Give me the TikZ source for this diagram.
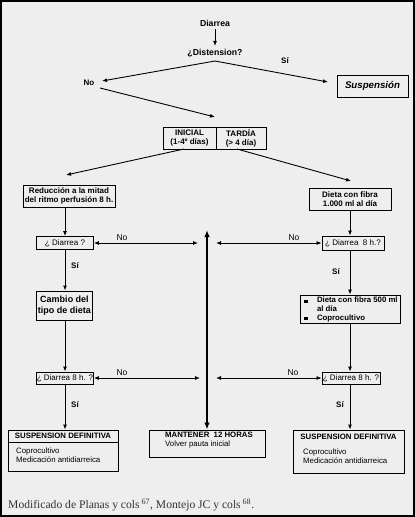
\documentclass[tikz,border=0pt]{standalone}
\usepackage{fontspec}
\setmainfont{Liberation Sans}
\newfontfamily\capfont{Liberation Serif}
\usetikzlibrary{arrows.meta}
\definecolor{bg}{HTML}{EEEEEE}
\begin{document}
\begin{tikzpicture}[x=1pt,y=-1pt,
  txt/.style={inner sep=0pt, font=\fontsize{8}{9}\selectfont},
  btxt/.style={inner sep=0pt, font=\fontsize{8}{9}\selectfont\bfseries},
  box/.style={draw, line width=0.9pt, inner sep=0pt, align=center},
  arr/.style={-{Latex[length=5pt,width=4pt]}, line width=0.9pt},
  darr/.style={{Latex[length=5pt,width=4pt]}-{Latex[length=5pt,width=4pt]}, line width=0.8pt},
  bigarr/.style={{Latex[length=7pt,width=5.5pt]}-{Latex[length=7pt,width=5.5pt]}, line width=2.2pt},
]
\useasboundingbox (0,0) rectangle (415,517);
\fill[bg] (0,0) rectangle (415,517);
\draw[line width=2pt] (1,1) rectangle (414,516);

% top
\node[btxt, font=\fontsize{8.7}{10}\selectfont\bfseries] (diarrea) at (215,23) {Diarrea};
\node[btxt, font=\fontsize{8.7}{10}\selectfont\bfseries] (dist) at (215,53) {¿Distension?};
\draw[arr, shorten <=3pt, shorten >=3pt] (diarrea) -- (dist);
\coordinate (dsp) at (215,61);
\node[btxt] (no1) at (89,83) {No};
\node[btxt] (si1) at (285,61) {Sí};
\node[box, minimum width=71pt, minimum height=22pt, font=\fontsize{9.7}{11}\selectfont\bfseries\itshape] (susp) at (372.5,86) {Suspensión};
\coordinate (noL) at (102,81);
\coordinate (suspL) at (328,82);
\draw[arr] (dsp) -- (noL);
\draw[arr] (dsp) -- (suspL);
\coordinate (noS) at (100,88);
\coordinate (phT) at (215,117);
\draw[arr] (noS) -- (phT);

% phase box
\node[box, minimum width=53pt, minimum height=22pt, font=\fontsize{8}{9}\selectfont\bfseries] (ini) at (189.5,138) {INICIAL\\(1-4º días)};
\node[box, minimum width=50pt, minimum height=22pt, font=\fontsize{8}{9}\selectfont\bfseries] (tar) at (241,138) {TARDÍA\\(> 4 día)};
\coordinate (iniS) at (184,149);
\coordinate (tarS) at (237,149);
\coordinate (redT) at (66,175);
\coordinate (dietT) at (351,181);
\draw[arr] (iniS) -- (redT);
\draw[arr] (tarS) -- (dietT);

% left column
\node[box, minimum width=92pt, minimum height=22pt, font=\fontsize{8}{9}\selectfont\bfseries] (red) at (69,196) {Reducción a la mitad\\del ritmo perfusión 8 h.};
\node[box, minimum width=57pt, minimum height=13pt, font=\fontsize{8}{9}\selectfont] (q1) at (65,243) {¿ Diarrea ?};
\draw[arr] (red.south -| q1.north) -- (q1.north);
\node[box, minimum width=56pt, minimum height=29pt, font=\fontsize{9}{11}\selectfont\bfseries] (camb) at (64.5,305.5) {Cambio del\\tipo de dieta};
\draw[arr] (q1.south) -- (q1.south |- camb.north);
\node[btxt] (si2) at (75,266) {Sí};
\node[box, minimum width=57pt, minimum height=12pt, font=\fontsize{8}{9}\selectfont] (q3) at (65,378) {¿ Diarrea 8 h. ?};
\draw[arr] (camb.south -| q3.north) -- (q3.north);
\node[box, minimum width=110pt, minimum height=41pt] (fin1) at (63,450.5) {};
\draw[line width=0.6pt] (fin1.west |- 0,442) -- (fin1.east |- 0,442);
\node[btxt, font=\fontsize{7.8}{9}\selectfont\bfseries] (fin1h) at (63,436) {SUSPENSION DEFINITIVA};
\node[txt, anchor=north west, align=left, font=\fontsize{7.8}{9}\selectfont] (fin1b) at (16,448) {Coprocultivo\\Medicación antidiarreica};
\draw[arr] (q3.south) -- (q3.south |- fin1.north);
\node[btxt] (si3) at (75,405) {Sí};

% right column
\node[box, minimum width=82pt, minimum height=22pt, font=\fontsize{8}{9}\selectfont\bfseries] (diet) at (350,199.5) {Dieta con fibra\\1.000 ml al día};
\node[box, minimum width=62pt, minimum height=14pt, font=\fontsize{8}{9}\selectfont] (q2) at (353,243) {¿ Diarrea~ 8 h.?};
\draw[arr] (diet.south) -- (diet.south |- q2.north);
\node[box, minimum width=100pt, minimum height=28pt] (bul) at (350,309) {};
\node[btxt, anchor=west, align=left, font=\fontsize{7.8}{8.7}\selectfont\bfseries] (bult) at (304,309.5) {\rule{3.3pt}{3.3pt}\hspace{9.5pt}Dieta con fibra 500 ml\\\hspace{12.8pt}al día\\\rule{3.3pt}{3.3pt}\hspace{9.5pt}Coprocultivo};
\draw[arr] (bul.north |- q2.south) -- (bul.north);
\node[btxt] (si4) at (336,272) {Sí};
\node[box, minimum width=58pt, minimum height=12pt, font=\fontsize{8}{9}\selectfont] (q4) at (351,378) {¿ Diarrea 8 h. ?};
\draw[arr] (bul.south) -- (bul.south |- q4.north);
\node[box, minimum width=111pt, minimum height=43pt] (fin2) at (348.5,451.5) {};
\node[btxt, font=\fontsize{7.8}{9}\selectfont\bfseries] (fin2h) at (348.5,437) {SUSPENSION DEFINITIVA};
\node[txt, anchor=north west, align=left, font=\fontsize{7.8}{9}\selectfont] (fin2b) at (303,449) {Coprocultivo\\Medicación antidiarreica};
\draw[arr] (q4.south -| bul.south) -- (bul.south |- fin2.north);
\node[btxt] (si5) at (340,405) {Sí};

% centre
\node[box, minimum width=116pt, minimum height=27pt] (mant) at (207,443.5) {};
\node[txt, anchor=north west, align=left, font=\fontsize{7.8}{9}\selectfont] (mantt) at (165,432) {\textbf{MANTENER~ 12 HORAS}\\Volver pauta inicial};
\coordinate (ctop) at (207,230);
\draw[bigarr] (ctop) -- (mant.north);

% horizontal No arrows
\coordinate (h1) at (198,243);
\coordinate (h2) at (216,243);
\coordinate (h3) at (200,378);
\coordinate (h4) at (216,378);
\draw[darr] (q1.east) -- (h1);
\draw[darr] (h2) -- (q2.west);
\draw[darr] (q3.east) -- (h3);
\draw[darr] (h4) -- (q4.west);
\node[txt, font=\fontsize{8.5}{10}\selectfont] (no2) at (122,238) {No};
\node[txt, font=\fontsize{8.5}{10}\selectfont] (no3) at (294,238) {No};
\node[txt, font=\fontsize{8.5}{10}\selectfont] (no4) at (122,373) {No};
\node[txt, font=\fontsize{8.5}{10}\selectfont] (no5) at (293,373) {No};

% caption
\node[anchor=west, inner sep=0pt, text=black!80, font=\capfont\fontsize{11.6}{13}\selectfont] (cap) at (8,505) {Modificado de Planas y cols\,\textsuperscript{67}, Montejo JC y cols\,\textsuperscript{68}.};
\end{tikzpicture}
\end{document}
